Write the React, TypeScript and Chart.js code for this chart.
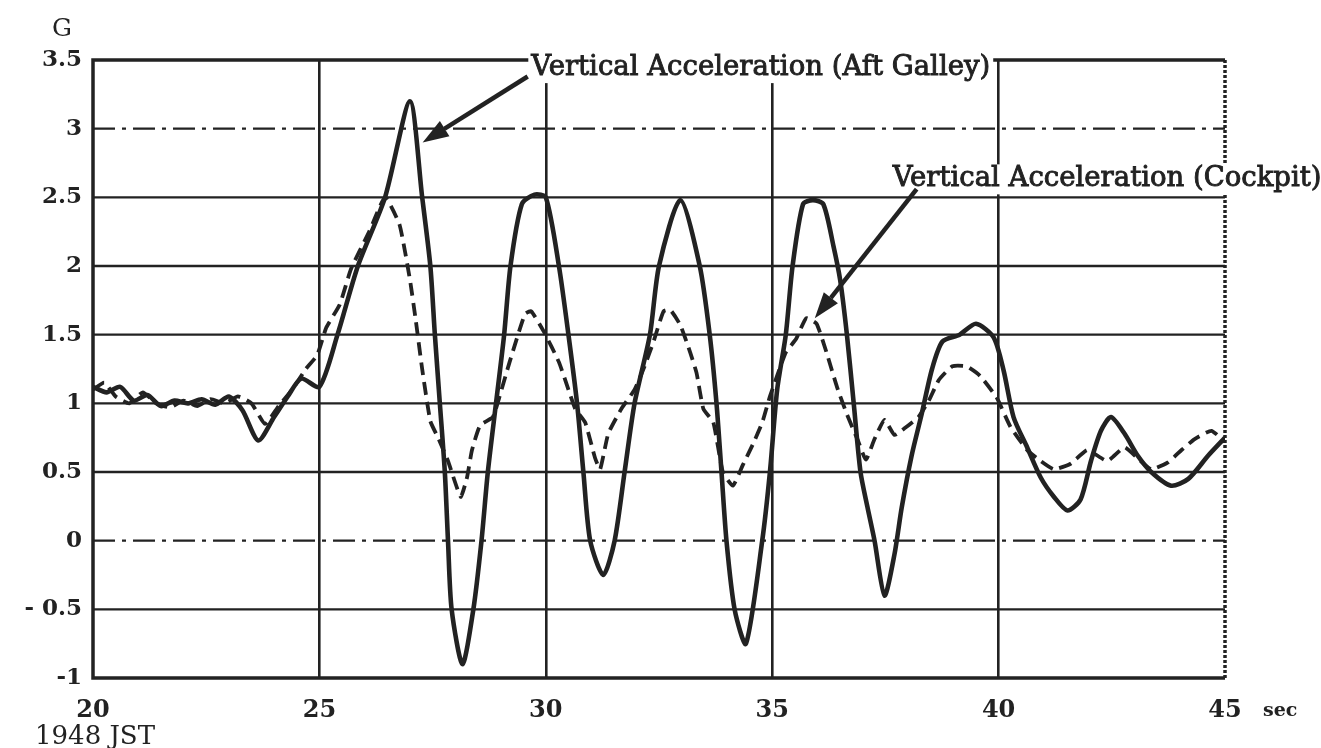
import React, { useEffect, useRef } from "react";
import { Chart, registerables } from "chart.js";

Chart.register(...registerables);

// ---------- DATA ----------
const galleyTime = [
  20, 20.3, 20.6, 20.9, 21.2, 21.5, 21.8, 22.1, 22.4, 22.7, 23.0, 23.3, 23.65, 24.0, 24.3, 24.6, 25.0,
  25.4, 25.85, 26.45, 27.0, 27.27, 27.45, 27.55, 27.66, 27.77, 27.84, 27.92, 28.16, 28.4, 28.58, 28.72,
  28.9, 29.08, 29.22, 29.47, 29.75, 30.0, 30.29, 30.5, 30.69, 30.83, 30.98, 31.27, 31.52, 31.74, 31.96,
  32.3, 32.5, 32.97, 33.4, 33.62, 33.77, 33.88, 33.99, 34.17, 34.42, 34.78, 34.95, 35.11, 35.3, 35.45,
  35.68, 35.9, 36.13, 36.35, 36.5, 36.65, 36.8, 36.95, 37.1, 37.26, 37.48, 37.7, 37.86, 38.08, 38.3,
  38.53, 38.76, 39.14, 39.5, 39.89, 40.11, 40.33, 40.63, 40.93, 41.22, 41.52, 41.81, 42.04, 42.26,
  42.48, 42.78, 43.07, 43.37, 43.81, 44.19, 44.63, 45.0,
];
const galleyG = [
  1.12, 1.08, 1.12, 1.02, 1.06, 0.98, 1.02, 1.0, 1.03, 0.99, 1.05, 0.95, 0.73, 0.9, 1.05, 1.18, 1.12,
  1.5, 2.0, 2.5, 3.2, 2.5, 2.0, 1.5, 1.0, 0.5, 0.0, -0.5, -0.9, -0.5, 0.0, 0.5,
  1.0, 1.5, 2.0, 2.45, 2.52, 2.5, 2.0, 1.5, 1.0, 0.5, 0.0, -0.25, 0.0, 0.5, 1.0,
  1.5, 2.0, 2.48, 2.0, 1.5, 1.0, 0.5, 0.0, -0.5, -0.75, 0.0, 0.5, 1.1, 1.5, 2.0,
  2.45, 2.48, 2.45, 2.15, 1.9, 1.5, 1.0, 0.5, 0.25, 0.0, -0.4, -0.1, 0.24, 0.62, 0.92,
  1.25, 1.45, 1.5, 1.58, 1.48, 1.24, 0.9, 0.68, 0.46, 0.32, 0.22, 0.3, 0.58, 0.8,
  0.9, 0.78, 0.62, 0.5, 0.4, 0.45, 0.62, 0.75,
];

const cockpitTime = [
  20, 20.25, 20.5, 20.8, 21.1, 21.4, 21.7, 22.0, 22.3, 22.6, 22.9, 23.2, 23.5, 23.8, 24.1, 24.4, 24.7,
  24.95, 25.15, 25.45, 25.7, 26.1, 26.45, 26.77, 27.0, 27.13, 27.27, 27.45, 27.62, 27.84, 28.12, 28.26,
  28.37, 28.55, 28.83, 28.97, 29.2, 29.54, 29.68, 29.96, 30.29, 30.5, 30.65, 30.87, 31.09, 31.2, 31.38,
  31.67, 31.96, 32.17, 32.39, 32.6, 32.75, 32.97, 33.19, 33.33, 33.48, 33.7, 33.91, 34.13, 34.35, 34.57,
  34.78, 34.95, 35.3, 35.53, 35.75, 35.98, 36.2, 36.43, 36.65, 36.88, 37.07, 37.26, 37.48, 37.7, 37.93,
  38.23, 38.46, 38.68, 38.98, 39.29, 39.59, 39.96, 40.26, 40.63, 40.93, 41.22, 41.59, 41.96, 42.4,
  42.78, 43.07, 43.37, 43.74, 44.04, 44.33, 44.7, 45.0,
];
const cockpitG = [
  1.1, 1.15, 1.05, 1.0, 1.08, 1.0, 0.97, 1.02, 0.98, 1.03, 1.0, 1.05, 1.0, 0.85, 0.98, 1.1, 1.25,
  1.35, 1.55, 1.72, 1.98, 2.25, 2.5, 2.3, 1.9, 1.6, 1.25, 0.87, 0.75, 0.58, 0.32, 0.46,
  0.66, 0.84, 0.9, 1.04, 1.3, 1.65, 1.67, 1.52, 1.3, 1.1, 0.96, 0.86, 0.6, 0.52, 0.78,
  0.96, 1.1, 1.26, 1.46, 1.67, 1.68, 1.57, 1.37, 1.22, 0.96, 0.86, 0.5, 0.4, 0.55, 0.7,
  0.86, 1.05, 1.37, 1.47, 1.62, 1.58, 1.37, 1.12, 0.92, 0.74, 0.59, 0.74, 0.88, 0.77, 0.82,
  0.9, 1.02, 1.17, 1.27, 1.27, 1.2, 1.04, 0.83, 0.66, 0.58, 0.52, 0.56, 0.66, 0.58,
  0.68, 0.6, 0.52, 0.57, 0.66, 0.74, 0.8, 0.72,
];

const xTickValues = [20, 25, 30, 35, 40, 45];
const yTickValues = [-1, -0.5, 0, 0.5, 1, 1.5, 2, 2.5, 3, 3.5];
const yTickLabels = ["-1", "- 0.5", "0", "0.5", "1", "1.5", "2", "2.5", "3", "3.5"];
const yGridKinds = ["border", "solid", "dashdot", "solid", "solid", "solid", "solid", "solid", "dashdot", "border"];
const seriesNames = ["Vertical Acceleration (Aft Galley)", "Vertical Acceleration (Cockpit)"];
const yUnit = "G";
const xUnit = "sec";
const xCaption = "1948 JST";

// annotation anchors (data coordinates)
const labelAnchor = [
  [29.68, 3.39],
  [37.66, 2.58],
];
const arrowFrom = [
  [29.6, 3.38],
  [38.19, 2.56],
];
const arrowTo = [
  [27.28, 2.9],
  [35.94, 1.62],
];

const INK = "#222";
const SERIF = '"DejaVu Serif", "Liberation Serif", serif';

function drawArrow(ctx: CanvasRenderingContext2D, x1: number, y1: number, x2: number, y2: number) {
  const ang = Math.atan2(y2 - y1, x2 - x1);
  const headLen = 26;
  const headW = 9;
  const bx = x2 - headLen * Math.cos(ang);
  const by = y2 - headLen * Math.sin(ang);
  ctx.save();
  ctx.beginPath();
  ctx.moveTo(x1, y1);
  ctx.lineTo(bx, by);
  ctx.lineWidth = 4.5;
  ctx.strokeStyle = INK;
  ctx.setLineDash([]);
  ctx.stroke();
  ctx.beginPath();
  ctx.moveTo(x2, y2);
  ctx.lineTo(bx + headW * Math.sin(ang), by - headW * Math.cos(ang));
  ctx.lineTo(bx - headW * Math.sin(ang), by + headW * Math.cos(ang));
  ctx.closePath();
  ctx.fillStyle = INK;
  ctx.fill();
  ctx.restore();
}

const gridPlugin = {
  id: "customGrid",
  beforeDatasetsDraw(chart: any) {
    const { ctx, chartArea, scales } = chart;
    const y = scales.y;
    ctx.save();
    ctx.strokeStyle = INK;
    yTickValues.forEach((v, i) => {
      const kind = yGridKinds[i];
      if (kind === "border") return;
      const py = y.getPixelForValue(v);
      ctx.beginPath();
      ctx.lineWidth = 2.4;
      ctx.setLineDash(kind === "dashdot" ? [22, 7, 4, 7] : []);
      ctx.moveTo(chartArea.left, py);
      ctx.lineTo(chartArea.right, py);
      ctx.stroke();
    });
    ctx.restore();
  },
  afterDatasetsDraw(chart: any) {
    const { ctx, chartArea } = chart;
    ctx.save();
    ctx.strokeStyle = INK;
    ctx.setLineDash([]);
    ctx.lineWidth = 3.5;
    ctx.beginPath();
    ctx.moveTo(chartArea.right, chartArea.top);
    ctx.lineTo(chartArea.left, chartArea.top);
    ctx.lineTo(chartArea.left, chartArea.bottom);
    ctx.lineTo(chartArea.right, chartArea.bottom);
    ctx.stroke();
    ctx.beginPath();
    ctx.setLineDash([3, 2]);
    ctx.lineWidth = 3.5;
    ctx.moveTo(chartArea.right, chartArea.top);
    ctx.lineTo(chartArea.right, chartArea.bottom);
    ctx.stroke();
    ctx.restore();
  },
  afterDraw(chart: any) {
    const { ctx, scales, chartArea } = chart;
    const xs = scales.x;
    const ys = scales.y;
    const px = (v: number) => xs.getPixelForValue(v);
    const py = (v: number) => ys.getPixelForValue(v);
    ctx.save();
    // annotations
    ctx.font = `27.5px ${SERIF}`;
    ctx.textBaseline = "alphabetic";
    ctx.textAlign = "left";
    seriesNames.forEach((name, i) => {
      const x = px(labelAnchor[i][0]);
      const y = py(labelAnchor[i][1]);
      ctx.fillStyle = "#fff";
      const w = ctx.measureText(name).width;
      ctx.fillRect(x - 3, y - 22, w + 6, 30);
      ctx.fillStyle = INK;
      ctx.strokeStyle = INK;
      ctx.lineWidth = 0.9;
      ctx.setLineDash([]);
      ctx.fillText(name, x, y);
      ctx.strokeText(name, x, y);
      drawArrow(ctx, px(arrowFrom[i][0]), py(arrowFrom[i][1]), px(arrowTo[i][0]), py(arrowTo[i][1]));
    });
    // unit labels
    ctx.fillStyle = INK;
    ctx.font = `25px ${SERIF}`;
    ctx.textAlign = "center";
    ctx.textBaseline = "middle";
    ctx.fillText(yUnit, chartArea.left - 31, chartArea.top - 31);
    ctx.font = `bold 19px ${SERIF}`;
    ctx.textAlign = "left";
    ctx.fillText(xUnit, chartArea.right + 38, chartArea.bottom + 33);
    ctx.font = `26px ${SERIF}`;
    ctx.textBaseline = "alphabetic";
    ctx.fillText(xCaption, chartArea.left - 58, chartArea.bottom + 66);
    ctx.restore();
  },
};

export default function App() {
  const canvasRef = useRef<HTMLCanvasElement | null>(null);

  useEffect(() => {
    document.body.style.margin = "0";
    const canvas = canvasRef.current;
    if (!canvas) return;
    const chart = new Chart(canvas, {
      type: "line",
      data: {
        datasets: [
          {
            label: seriesNames[0],
            data: galleyTime.map((t, i) => ({ x: t, y: galleyG[i] })),
            borderColor: INK,
            borderWidth: 4.6,
            pointRadius: 0,
            tension: 0.25,
            fill: false,
          },
          {
            label: seriesNames[1],
            data: cockpitTime.map((t, i) => ({ x: t, y: cockpitG[i] })),
            borderColor: INK,
            borderWidth: 3.8,
            borderDash: [13, 7],
            pointRadius: 0,
            tension: 0.15,
            fill: false,
          },
        ],
      },
      options: {
        responsive: false,
        animation: false,
        devicePixelRatio: 1,
        layout: { padding: { top: 60, right: 96, left: 0, bottom: 0 } },
        plugins: {
          legend: { display: false },
          tooltip: { enabled: false },
          title: { display: false },
        },
        scales: {
          x: {
            type: "linear",
            min: 20,
            max: 45,
            afterBuildTicks: (scale: any) => {
              scale.ticks = xTickValues.map((v) => ({ value: v }));
            },
            afterFit: (scale: any) => {
              scale.height = 70;
            },
            grid: {
              color: (c: any) =>
                c.tick && (c.tick.value === 20 || c.tick.value === 45) ? "rgba(0,0,0,0)" : INK,
              lineWidth: 2.6,
              drawTicks: false,
            },
            border: { display: false },
            ticks: {
              color: INK,
              padding: 18,
              maxRotation: 0,
              font: { family: SERIF, size: 24, weight: "bold" },
              callback: (v: any) => String(v),
            },
          },
          y: {
            type: "linear",
            min: -1,
            max: 3.5,
            afterBuildTicks: (scale: any) => {
              scale.ticks = yTickValues.map((v) => ({ value: v }));
            },
            afterFit: (scale: any) => {
              scale.width = 93;
            },
            grid: { display: false, drawTicks: false },
            border: { display: false },
            ticks: {
              color: INK,
              padding: 11,
              font: { family: SERIF, size: 23, weight: "bold" },
              callback: (v: any) => {
                const idx = yTickValues.indexOf(Number(v));
                return idx >= 0 ? yTickLabels[idx] : "";
              },
            },
          },
        },
      },
      plugins: [gridPlugin],
    } as any);
    return () => chart.destroy();
  }, []);

  return (
    <div style={{ width: 1321, height: 748, background: "#fff" }}>
      <canvas ref={canvasRef} width={1321} height={748} style={{ display: "block" }} />
    </div>
  );
}
